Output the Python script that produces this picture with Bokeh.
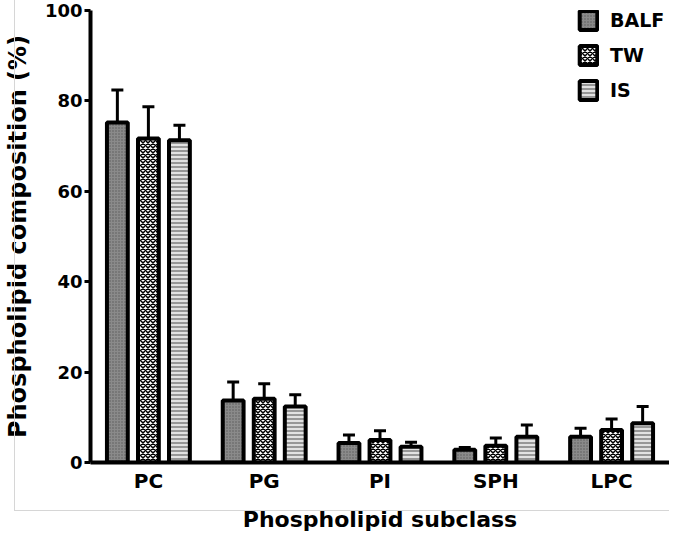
from bokeh.plotting import figure
from bokeh.models import ColumnDataSource, FactorRange, Legend, LegendItem, Range1d, FixedTicker, InlineStyleSheet
from bokeh.transform import dodge
from bokeh.embed import file_html
from bokeh.resources import INLINE

categories = ["PC", "PG", "PI", "SPH", "LPC"]
series = ["BALF", "TW", "IS"]
balf = [75.2, 13.7, 4.3, 2.8, 5.7]
balf_err = [7.2, 4.1, 1.8, 0.5, 1.9]
tw = [71.7, 14.1, 5.0, 3.7, 7.2]
tw_err = [7.0, 3.3, 2.0, 1.7, 2.4]
is_ = [71.3, 12.4, 3.5, 5.7, 8.7]
is_err = [3.3, 2.6, 1.0, 2.6, 3.7]
y_ticks = [0, 20, 40, 60, 80, 100]

FONT = "DejaVu Sans"

p = figure(x_range=FactorRange(factors=categories, range_padding=0),
           y_range=Range1d(0, 100),
           width=669, height=535, output_backend="svg", toolbar_location=None,
           min_border_left=82, min_border_right=0, min_border_top=10, min_border_bottom=73)
p.outline_line_color = None
p.grid.grid_line_color = None
p.background_fill_color = "white"

# faint panel border drawn as page decoration
p.stylesheets = [InlineStyleSheet(css="""
:host { position: relative; }
:host::after {
  content: ''; position: absolute; left: 14px; top: 0px; width: 655px; height: 511px;
  border-left: 1.5px solid #d6d6d6; border-bottom: 1.5px solid #d6d6d6;
  pointer-events: none; z-index: 5; box-sizing: border-box;
}
""")]

styles = {
    "BALF": dict(fill_color="#8a8a8a", hatch_pattern="dot", hatch_color="#5a5a5a", hatch_scale=3, hatch_weight=1),
    "TW": dict(fill_color="white", hatch_pattern="diagonal_cross", hatch_color="black", hatch_scale=5, hatch_weight=1.5),
    "IS": dict(fill_color="#e2e2e2", hatch_pattern="horizontal_line", hatch_color="#8e8e8e", hatch_scale=4, hatch_weight=1.8),
}
vals = {"BALF": (balf, balf_err), "TW": (tw, tw_err), "IS": (is_, is_err)}
offsets = {"BALF": -0.268, "TW": 0.0, "IS": 0.268}

items = []
for s in series:
    v, e = vals[s]
    src = ColumnDataSource(dict(cat=categories, val=v, top=[a + b for a, b in zip(v, e)]))
    xs = dodge("cat", offsets[s], range=p.x_range)
    p.segment(x0=xs, x1=xs, y0="val", y1="top", source=src, line_color="black", line_width=3)
    p.scatter(x=xs, y="top", source=src, marker="dash", size=12, line_color="black", line_width=3)
    r = p.vbar(x=xs, top="val", bottom=0, width=0.18, source=src,
               line_color="black", line_width=4, **styles[s])
    items.append(LegendItem(label=s, renderers=[r]))

legend = Legend(items=items, location=(487, 360), glyph_width=22, glyph_height=24,
                label_height=24, spacing=11, padding=0, margin=0, label_standoff=11,
                border_line_color=None, background_fill_alpha=0,
                label_text_font=FONT, label_text_font_style="bold", label_text_font_size="19px",
                label_text_color="black")
p.add_layout(legend)

p.yaxis.ticker = FixedTicker(ticks=y_ticks)
for ax in (p.xaxis, p.yaxis):
    ax.axis_line_width = 4
    ax.axis_line_color = "black"
    ax.major_label_text_font = FONT
    ax.major_label_text_font_style = "bold"
    ax.major_label_text_color = "black"
    ax.axis_label_text_font = FONT
    ax.axis_label_text_font_style = "bold"
    ax.axis_label_text_color = "black"
    ax.minor_tick_line_color = None

p.yaxis.major_tick_line_width = 3
p.yaxis.major_tick_out = 6
p.yaxis.major_tick_in = 0
p.yaxis.major_label_standoff = 2
p.yaxis.major_label_text_font_size = "18px"
p.yaxis.axis_label = "Phospholipid composition (%)"
p.yaxis.axis_label_text_font_size = "24px"
p.yaxis.axis_label_standoff = 10

p.xaxis.major_tick_line_color = None
p.xaxis.major_tick_out = 0
p.xaxis.major_label_standoff = 6
p.xaxis.major_label_text_font_size = "20px"
p.xaxis.axis_label = "Phospholipid subclass"
p.xaxis.axis_label_text_font_size = "22px"
p.xaxis.axis_label_standoff = 11

open("out.html", "w").write(file_html(p, INLINE))
